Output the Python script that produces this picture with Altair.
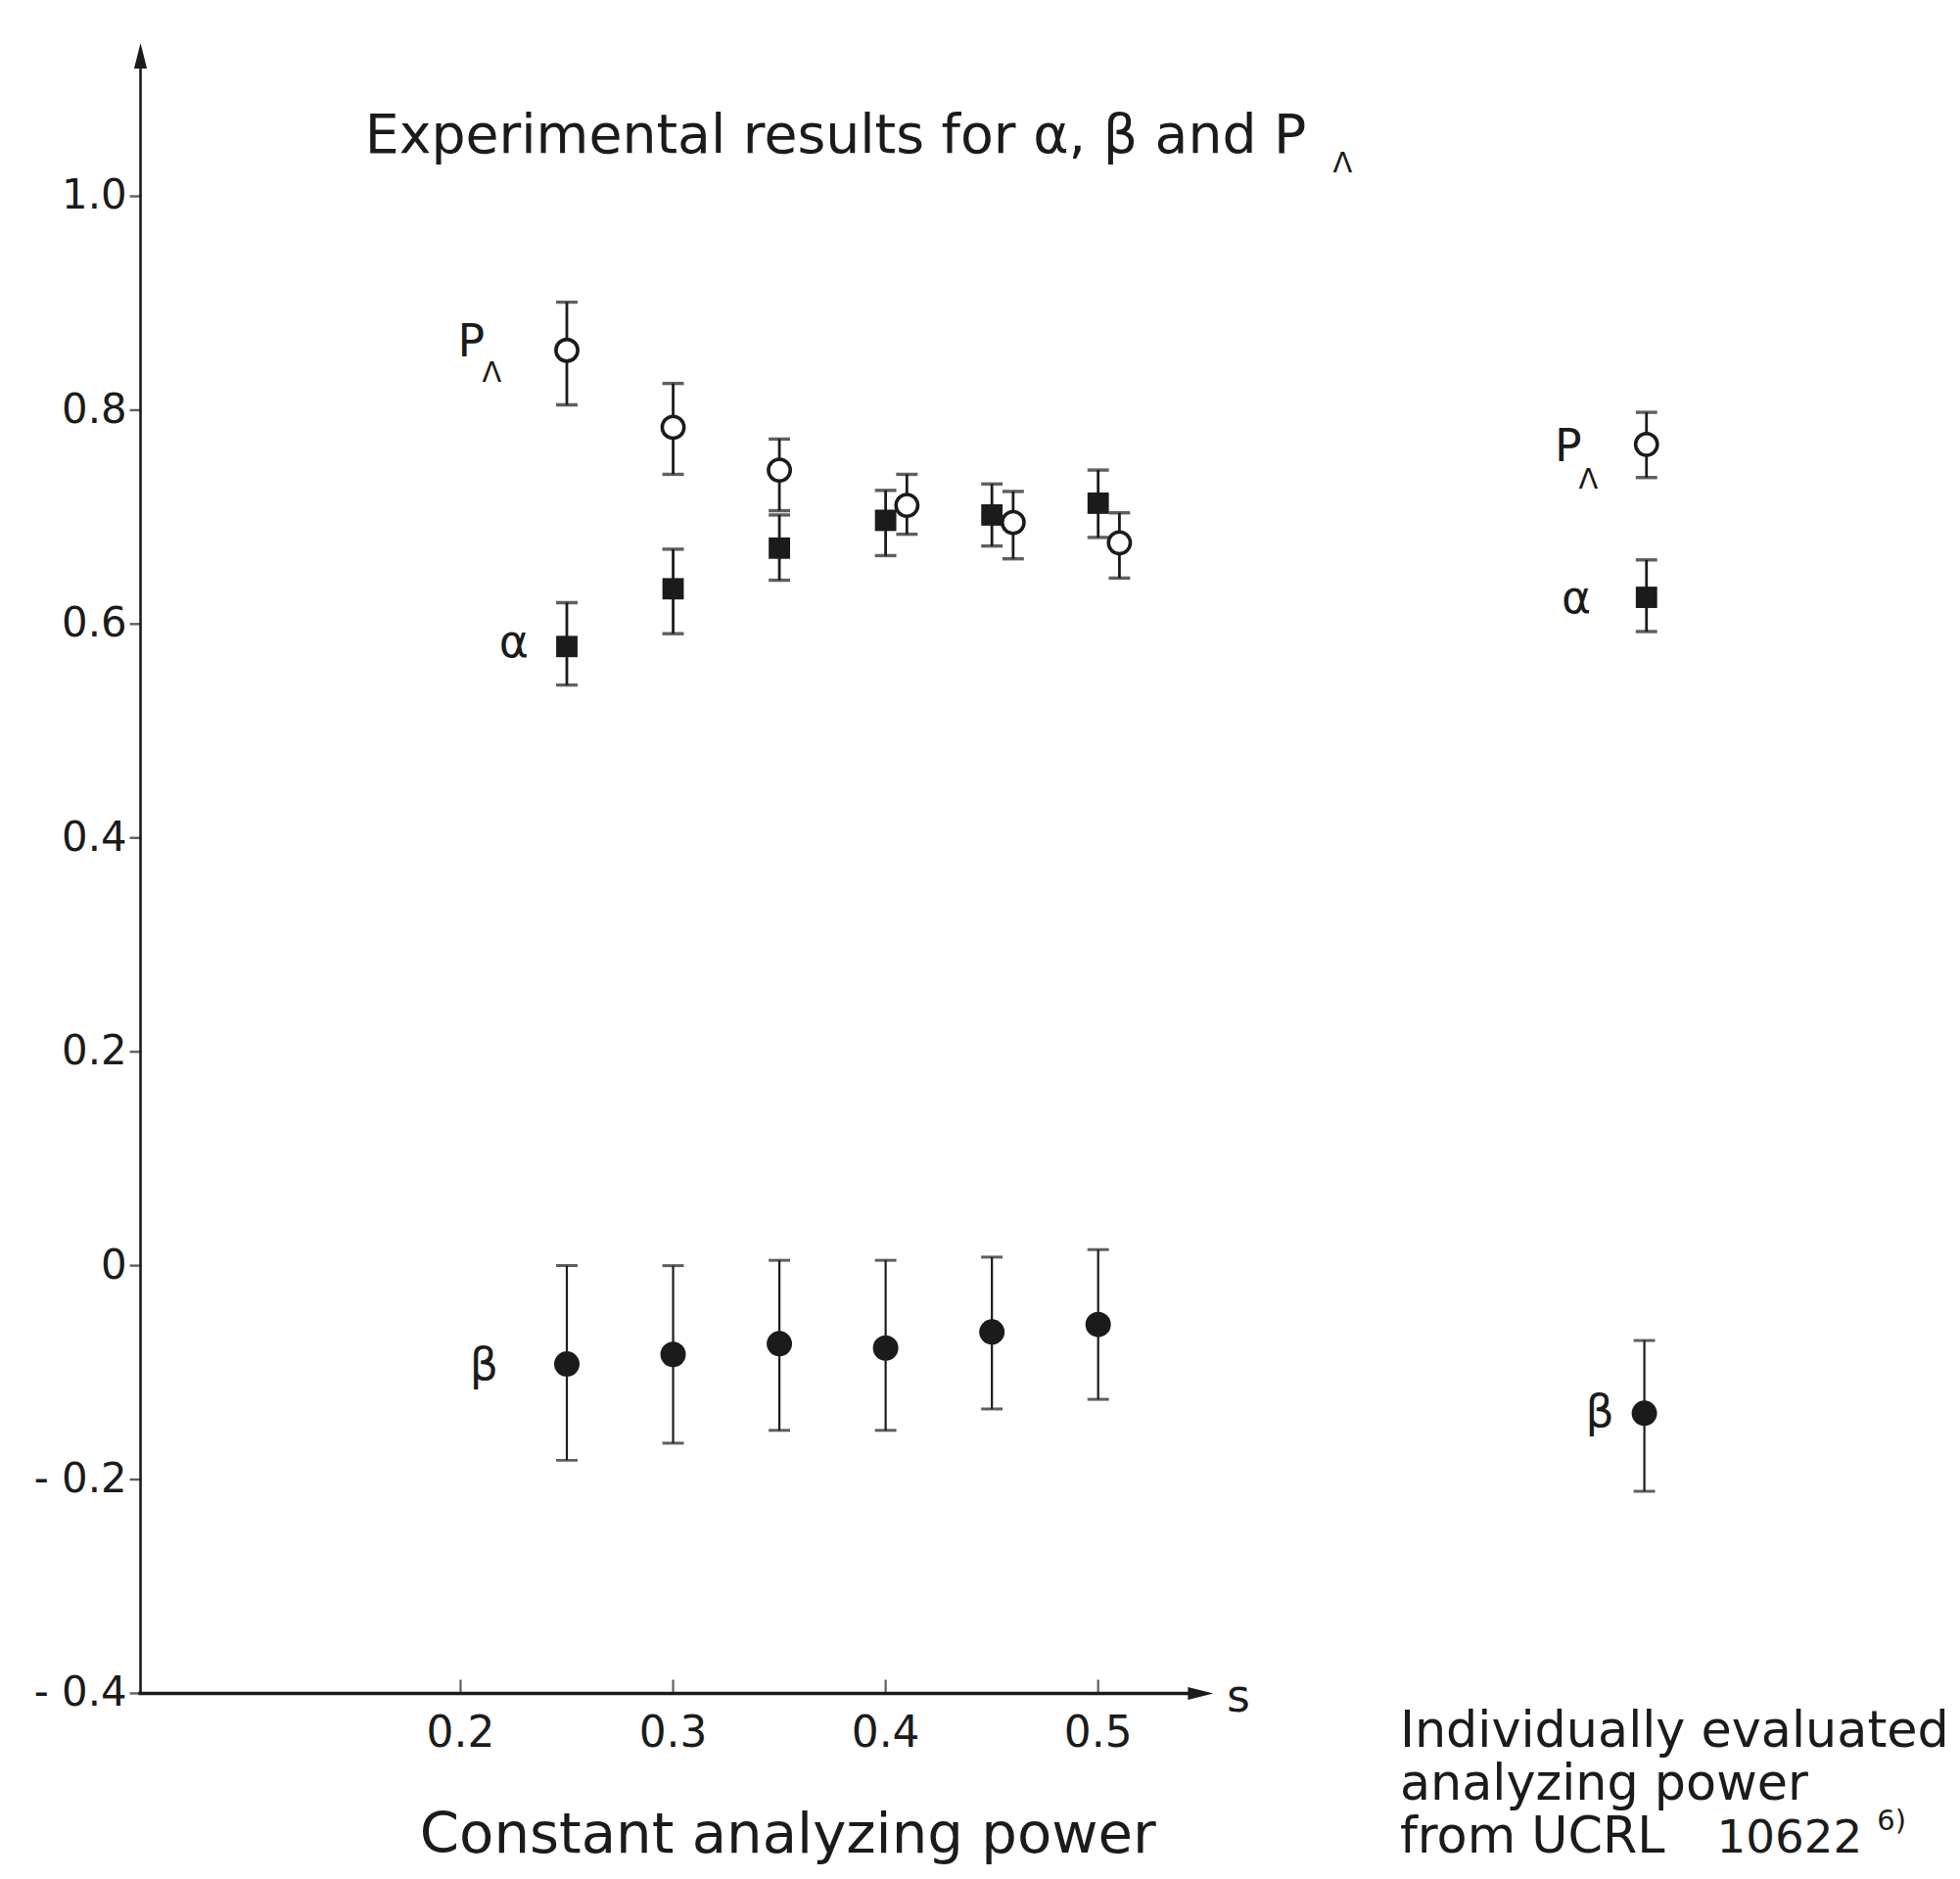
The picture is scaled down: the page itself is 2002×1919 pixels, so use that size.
import altair as alt
import pandas as pd

# ---- data ----
p_x = [0.25, 0.30, 0.35, 0.41, 0.46, 0.51, 0.758]
p_y = [0.856, 0.784, 0.744, 0.711, 0.695, 0.676, 0.768]
p_lo = [0.805, 0.740, 0.706, 0.684, 0.661, 0.643, 0.737]
p_hi = [0.901, 0.825, 0.773, 0.740, 0.724, 0.704, 0.798]

a_x = [0.25, 0.30, 0.35, 0.40, 0.45, 0.50, 0.758]
a_y = [0.579, 0.633, 0.671, 0.697, 0.702, 0.713, 0.625]
a_lo = [0.543, 0.591, 0.641, 0.664, 0.673, 0.681, 0.593]
a_hi = [0.620, 0.670, 0.702, 0.725, 0.731, 0.744, 0.660]

b_x = [0.25, 0.30, 0.35, 0.40, 0.45, 0.50, 0.757]
b_y = [-0.092, -0.083, -0.073, -0.077, -0.062, -0.055, -0.138]
b_lo = [-0.182, -0.166, -0.154, -0.154, -0.134, -0.125, -0.211]
b_hi = [0.0, 0.0, 0.005, 0.005, 0.008, 0.015, -0.070]

y_ticks = [-0.4, -0.2, 0.0, 0.2, 0.4, 0.6, 0.8, 1.0]
y_tick_labels = ["- 0.4", "- 0.2", "0", "0.2", "0.4", "0.6", "0.8", "1.0"]
x_ticks = [0.2, 0.3, 0.4, 0.5]
x_tick_labels = ["0.2", "0.3", "0.4", "0.5"]

title_text = "Experimental results for α, β and P"

FONT = "DejaVu Sans"
INK = "#1b1b1b"
AX_X = 0.0494
AX_Y = -0.4

xs = alt.Scale(domain=[0.02, 0.9], nice=False, zero=False)
ys = alt.Scale(domain=[-0.56, 1.16], nice=False, zero=False)


def X(f):
    return alt.X(f, type="quantitative", scale=xs, axis=None)


def Y(f):
    return alt.Y(f, type="quantitative", scale=ys, axis=None)


def txt(df, size, align="left", baseline="alphabetic"):
    return alt.Chart(df).mark_text(font=FONT, fontSize=size, align=align, baseline=baseline,
                                   color=INK).encode(x=X("x"), y=Y("y"), text="t:N")


pdf = pd.DataFrame({"x": p_x, "y": p_y, "lo": p_lo, "hi": p_hi})
adf = pd.DataFrame({"x": a_x, "y": a_y, "lo": a_lo, "hi": a_hi})
bdf = pd.DataFrame({"x": b_x, "y": b_y, "lo": b_lo, "hi": b_hi})


def errbars(df, sw, cap, capw):
    bars = alt.Chart(df).mark_rule(color=INK, strokeWidth=sw).encode(
        x=X("x"), y=Y("lo"), y2=alt.Y2("hi"))
    lo = alt.Chart(df).mark_tick(color=INK, orient="horizontal", size=cap, thickness=capw).encode(
        x=X("x"), y=Y("lo"))
    hi = alt.Chart(df).mark_tick(color=INK, orient="horizontal", size=cap, thickness=capw).encode(
        x=X("x"), y=Y("hi"))
    return [bars, lo, hi]


layers = []
layers += errbars(pdf, 2.8, 22, 3.4)
layers += errbars(adf, 2.8, 22, 3.4)
layers += errbars(bdf, 2.2, 22, 3.0)

layers.append(alt.Chart(pdf).mark_point(shape="circle", filled=True, fill="white", stroke=INK,
                                        strokeWidth=3.6, size=500, opacity=1).encode(x=X("x"), y=Y("y")))
layers.append(alt.Chart(adf).mark_point(shape="square", filled=True, color=INK, size=480, opacity=1).encode(
    x=X("x"), y=Y("y")))
layers.append(alt.Chart(bdf).mark_point(shape="circle", filled=True, color=INK, size=680, opacity=1).encode(
    x=X("x"), y=Y("y")))

# ---- axes drawn by hand ----
yaxis_df = pd.DataFrame({"x": [AX_X], "y0": [AX_Y], "y1": [1.13]})
layers.append(alt.Chart(yaxis_df).mark_rule(color=INK, strokeWidth=2.6).encode(
    x=X("x"), y=Y("y0"), y2=alt.Y2("y1")))
xaxis_df = pd.DataFrame({"x0": [AX_X - 0.001], "x1": [0.548], "y": [AX_Y]})
layers.append(alt.Chart(xaxis_df).mark_rule(color=INK, strokeWidth=3.6).encode(
    x=X("x0"), x2=alt.X2("x1"), y=Y("y")))

arrow_up = pd.DataFrame({"x": [AX_X], "y": [1.125]})
layers.append(alt.Chart(arrow_up).mark_point(shape="M0,-1L0.33,0.3L-0.33,0.3Z", filled=True, color=INK,
                                             size=1600, opacity=1).encode(x=X("x"), y=Y("y")))
arrow_r = pd.DataFrame({"x": [0.545], "y": [AX_Y]})
layers.append(alt.Chart(arrow_r).mark_point(shape="M1,0L-0.3,0.33L-0.3,-0.33Z", filled=True, color=INK,
                                            size=1600, opacity=1).encode(x=X("x"), y=Y("y")))

ytk = pd.DataFrame({"x": [AX_X] * len(y_ticks), "y": y_ticks, "t": y_tick_labels})
layers.append(alt.Chart(ytk).mark_tick(color=INK, orient="horizontal", size=12, thickness=2.4, xOffset=-5).encode(
    x=X("x"), y=Y("y")))
layers.append(alt.Chart(ytk).mark_text(font=FONT, fontSize=42, align="right", baseline="middle", color=INK,
                                       dx=-14).encode(x=X("x"), y=Y("y"), text="t:N"))

xtk = pd.DataFrame({"x": x_ticks, "y": [AX_Y] * len(x_ticks), "t": x_tick_labels})
layers.append(alt.Chart(xtk).mark_tick(color=INK, orient="vertical", size=14, thickness=2.2, yOffset=-7).encode(
    x=X("x"), y=Y("y")))
layers.append(alt.Chart(xtk).mark_text(font=FONT, fontSize=44, align="center", baseline="middle", color=INK,
                                       dy=42).encode(x=X("x"), y=Y("y"), text="t:N"))

# ---- texts ----
layers.append(txt(pd.DataFrame({"x": [0.155], "y": [1.0406], "t": [title_text]}), 55.5))

sym = pd.DataFrame({
    "x": [0.205, 0.225, 0.211, 0.7212, 0.725, 0.736, 0.566],
    "y": [0.863, 0.582, -0.094, 0.765, 0.623, -0.138, -0.404],
    "t": ["P", "α", "β", "P", "α", "β", "s"],
})
layers.append(txt(sym, 46, align="center", baseline="middle"))

subs = pd.DataFrame({
    "x": [0.2147, 0.7306, 0.615],
    "y": [0.835, 0.7345, 1.031],
    "t": ["Λ", "Λ", "Λ"],
})
layers.append(txt(subs, 29, align="center", baseline="middle"))

layers.append(txt(pd.DataFrame({"x": [0.354], "y": [-0.549], "t": ["Constant analyzing power"]}), 58,
                  align="center"))

note = pd.DataFrame({
    "x": [0.642, 0.642, 0.642],
    "y": [-0.4497, -0.4998, -0.549],
    "t": ["Individually evaluated", "analyzing power", "from UCRL"],
})
layers.append(txt(note, 51))
layers.append(txt(pd.DataFrame({"x": [0.791], "y": [-0.549], "t": ["10622"]}), 47))
layers.append(txt(pd.DataFrame({"x": [0.8665], "y": [-0.52], "t": ["6)"]}), 29, baseline="middle"))

chart = alt.layer(*layers).properties(
    width=1918,
    height=1886,
    autosize=alt.AutoSizeParams(type="none"),
    padding={"left": 72, "top": 14, "right": 4, "bottom": 0},
    background="white",
).configure_view(stroke=None)

chart.save("out.html", embed_options={"renderer": "svg", "actions": False})
